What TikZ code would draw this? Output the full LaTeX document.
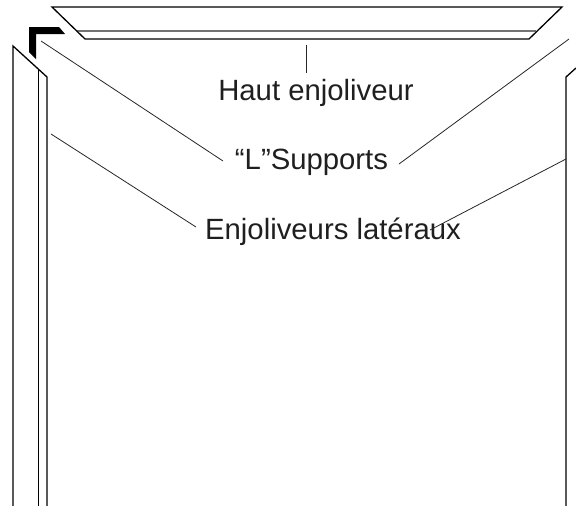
\documentclass[tikz,border=0pt]{standalone}
\usepackage{fontspec}
\setmainfont{Liberation Sans}
\tikzset{
  trim/.style={line width=1.3pt},
  leader/.style={line width=0.8pt,black!85},
  lbl/.style={font=\fontsize{29.3}{34}\selectfont,inner sep=0pt,anchor=base,text=black!88}
}
\begin{document}
\begin{tikzpicture}[x=1pt,y=-1pt]
    \useasboundingbox (0,0) rectangle (576,506);
    % haut
    \draw[line width=1.2pt,black!55] (77,31)--(536,31);
    \draw[trim] (52,7)--(562,7)--(529,39)--(85,39)--cycle;
    % support
    \fill (29,27)--(59,27)--(65,34)--(36,34)--(36,59)--(29,52)--cycle;
    % cotes
    \draw[trim] (13,506)--(13,46)--(47,77)--(47,506);
    \draw[line width=0.9pt] (38,70)--(38,506);
    \draw[trim] (576,68)--(566,77)--(566,506);
    % textes
    \node[lbl] (haut) at (316,100) {Haut enjoliveur};
    \node[lbl] (supports) at (311.5,169) {“L”Supports};
    \node[lbl] (lateraux) at (333,239) {Enjoliveurs latéraux};
    \coordinate (hautA) at (306,45);
    \coordinate (hautB) at (306,73);
    \coordinate (suppG) at (41,41);
    \coordinate (suppGb) at (223,161);
    \coordinate (suppD) at (569,39);
    \coordinate (suppDb) at (399,164);
    \coordinate (latG) at (51,134);
    \coordinate (latGb) at (196,227);
    \coordinate (latD) at (566,159);
    \coordinate (latDb) at (430,230);
    % traits
    \draw[leader] (hautA)--(hautB);
    \draw[leader] (suppG)--(suppGb);
    \draw[leader] (suppD)--(suppDb);
    \draw[leader] (latG)--(latGb);
    \draw[leader] (latD)--(latDb);
\end{tikzpicture}
\end{document}
